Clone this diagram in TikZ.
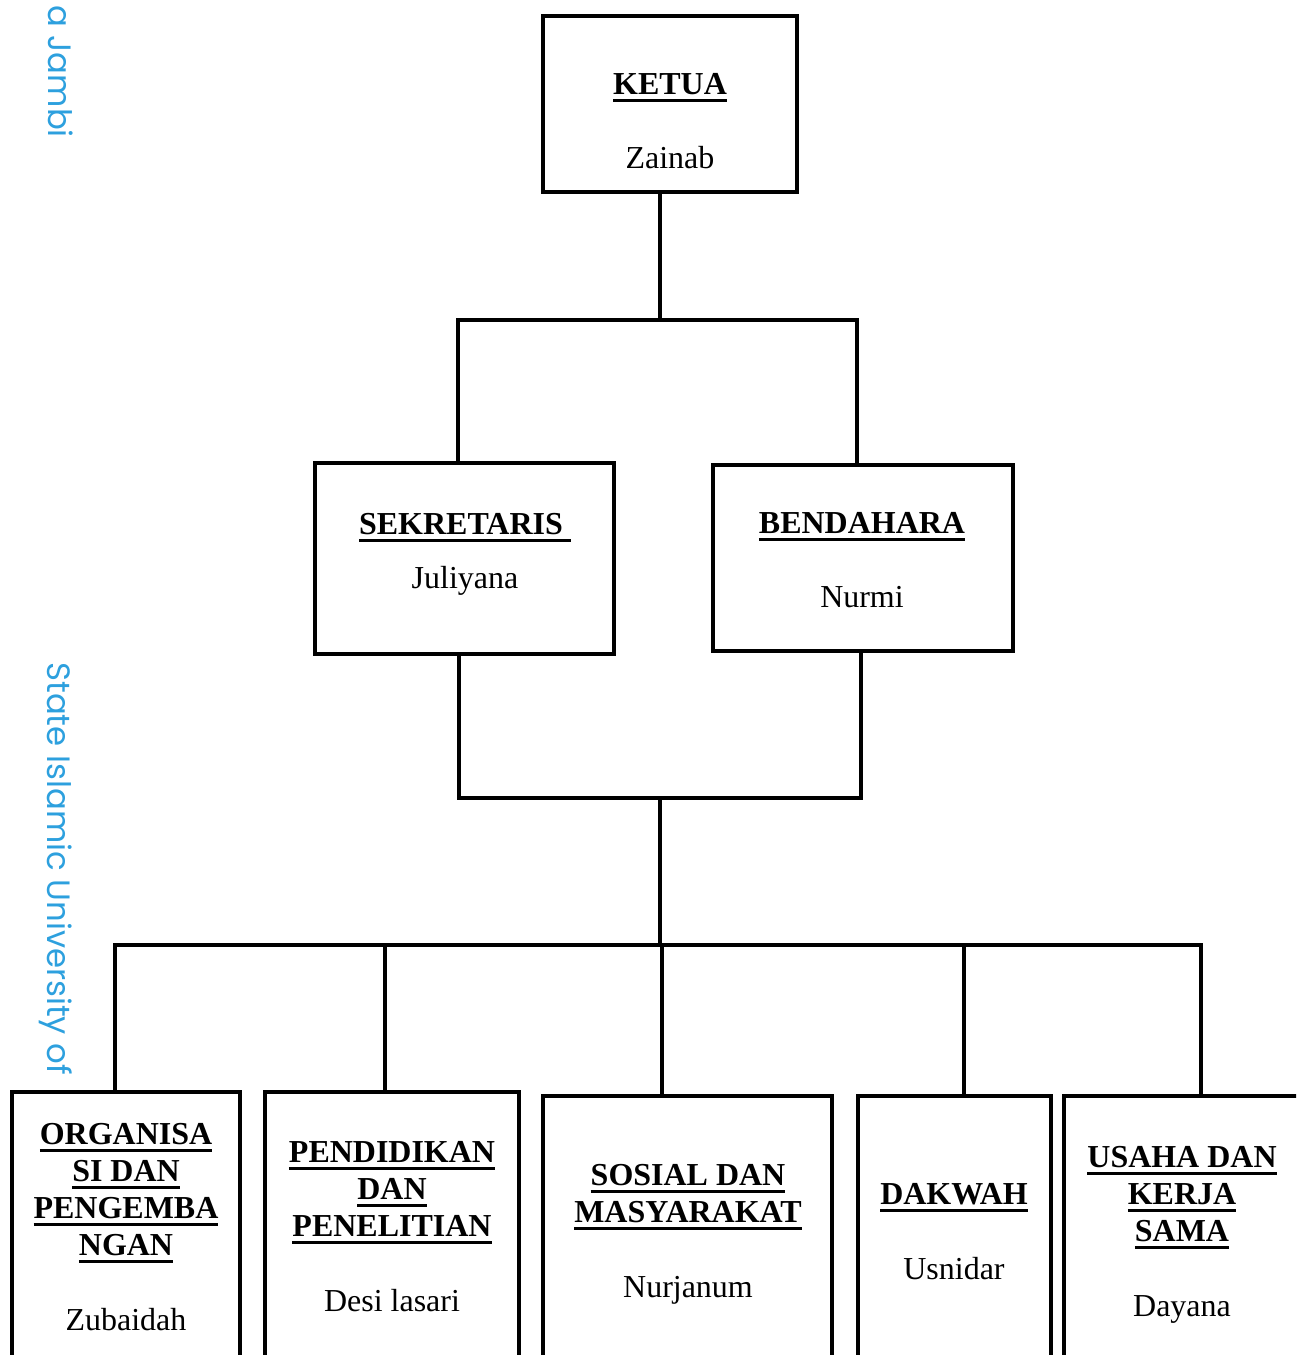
\documentclass[tikz,border=0pt]{standalone}
\usepackage{fontspec}
\setmainfont{Liberation Serif}
\newfontfamily\wmfont{Poppins}
\definecolor{wmblue}{RGB}{45,160,222}
\newcommand\ulx[1]{\setbox0=\hbox{#1}\rlap{\rule[-4.4pt]{\wd0}{1.7pt}}\box0}
\begin{document}
\begin{tikzpicture}[x=0.02cm,y=-0.02cm,
  box/.style={draw, line width=2.3pt, fill=white, outer sep=0pt, inner sep=0pt},
  conn/.style={line width=2.3pt, line cap=rect},
  hd/.style={font=\fontsize{18.2}{21}\selectfont\bfseries, anchor=base, inner sep=0pt},
  nm/.style={font=\fontsize{18.2}{21}\selectfont, anchor=base, inner sep=0pt},
  wm/.style={font=\wmfont\fontsize{18.4}{22}\selectfont, text=wmblue, rotate=-90, anchor=base west, inner sep=0pt}]
\useasboundingbox (0,0) rectangle (1296,1355);
\clip (0,0) rectangle (1296,1355);
% watermark
\node[wm] (wma) at (48,5) {a Jambi};
\node[wm] (wmb) at (47,662) {State Islamic University of};
% boxes
\node[box, minimum width=5.08cm, minimum height=3.52cm] (ketua) at (670,104) {};
\node[box, minimum width=5.98cm, minimum height=3.82cm] (sek) at (464.5,558.5) {};
\node[box, minimum width=6.00cm, minimum height=3.72cm] (ben) at (863,558) {};
\node[box, minimum width=4.56cm, minimum height=6.16cm] (org) at (126,1246) {};
\node[box, minimum width=5.08cm, minimum height=6.16cm] (pen) at (392,1246) {};
\node[box, minimum width=5.78cm, minimum height=6.08cm] (sos) at (687.5,1248) {};
\node[box, minimum width=3.86cm, minimum height=6.08cm] (dak) at (954.5,1248) {};
\node[box, minimum width=5.12cm, minimum height=6.08cm] (usa) at (1192,1248) {};
% junctions
\coordinate (j1) at (660,320);
\coordinate (j1l) at (458,320);
\coordinate (j1r) at (857,320);
\coordinate (j2l) at (459,798);
\coordinate (j2r) at (861,798);
\coordinate (j2) at (660,798);
\coordinate (j3) at (660,945);
\coordinate (b1) at (115,945);
\coordinate (b2) at (385,945);
\coordinate (b3) at (662,945);
\coordinate (b4) at (964,945);
\coordinate (b5) at (1201,945);
% connectors
\draw[conn] (ketua.south -| j1) -- (j1);
\draw[conn] (j1l |- sek.north) -- (j1l) -- (j1r) -- (j1r |- ben.north);
\draw[conn] (j2l |- sek.south) -- (j2l) -- (j2r) -- (j2r |- ben.south);
\draw[conn] (j2) -- (j3);
\draw[conn] (b1) -- (b5);
\draw[conn] (b1) -- (b1 |- org.north);
\draw[conn] (b2) -- (b2 |- pen.north);
\draw[conn] (b3) -- (b3 |- sos.north);
\draw[conn] (b4) -- (b4 |- dak.north);
\draw[conn] (b5) -- (b5 |- usa.north);
% texts
\node[hd] (t-ketua) at (670,94) {\ulx{KETUA}};
\node[nm] (n-ketua) at (670,168) {Zainab};
\node[hd] (t-sek) at (465,534) {\ulx{SEKRETARIS\ }};
\node[nm] (n-sek) at (465,588) {Juliyana};
\node[hd] (t-ben) at (862,533) {\ulx{BENDAHARA}};
\node[nm] (n-ben) at (862,607) {Nurmi};
\node[hd] (t-org1) at (126,1144) {\ulx{ORGANISA}};
\node[hd] (t-org2) at (126,1181) {\ulx{SI DAN}};
\node[hd] (t-org3) at (126,1218) {\ulx{PENGEMBA}};
\node[hd] (t-org4) at (126,1255) {\ulx{NGAN}};
\node[nm] (n-org) at (126,1330) {Zubaidah};
\node[hd] (t-pen1) at (392,1162) {\ulx{PENDIDIKAN}};
\node[hd] (t-pen2) at (392,1199) {\ulx{DAN}};
\node[hd] (t-pen3) at (392,1236) {\ulx{PENELITIAN}};
\node[nm] (n-pen) at (392,1311) {Desi lasari};
\node[hd] (t-sos1) at (688,1185) {\ulx{SOSIAL DAN}};
\node[hd] (t-sos2) at (688,1222) {\ulx{MASYARAKAT}};
\node[nm] (n-sos) at (688,1297) {Nurjanum};
\node[hd] (t-dak) at (954,1204) {\ulx{DAKWAH}};
\node[nm] (n-dak) at (954,1279) {Usnidar};
\node[hd] (t-usa1) at (1182,1167) {\ulx{USAHA DAN}};
\node[hd] (t-usa2) at (1182,1204) {\ulx{KERJA}};
\node[hd] (t-usa3) at (1182,1241) {\ulx{SAMA}};
\node[nm] (n-usa) at (1182,1316) {Dayana};
\end{tikzpicture}
\end{document}
